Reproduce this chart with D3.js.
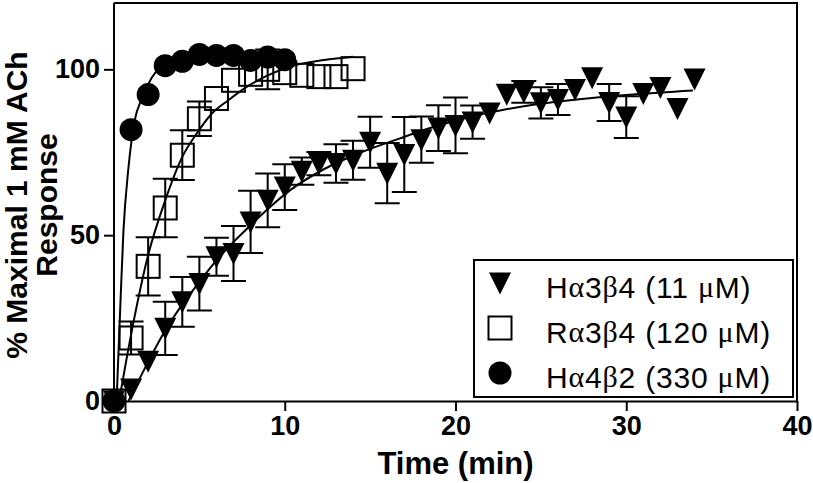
<!DOCTYPE html>
<html>
<head>
<meta charset="utf-8">
<script src="https://cdn.jsdelivr.net/npm/d3@7"></script>
<style>
  html, body { margin: 0; padding: 0; background: #fff; }
  svg { display: block; }
</style>
</head>
<body>
<svg id="chart" width="813" height="483"></svg>
<script>
// ---- Data ----
const xTicks = [0, 10, 20, 30, 40];
const yTicks = [0, 50, 100];

// Hα3β4 (11 µM) – filled down-triangles
const triTime = [0,1,2,3,4,5,6,7,8,9,10,11,12,13,14,15,16,17,18,19,20,21,22,23,24,25,26,27,28,29,30,31,32,33,34];
const triValue = [0,3.6,12,21.9,29.9,35.4,43.5,44.5,54,60.5,64.5,69.3,71.6,71.6,72.6,78,68.7,74.3,78.8,82.3,83.1,84.1,86.8,92.5,93.2,89.9,90.9,93.9,97.5,90,85.6,92.7,94.5,88.2,97.1];
const triError = [0,0,0,8,7.5,8.1,5.7,8.3,9.4,8.1,6.9,4.1,3.5,5.8,5.9,7.7,9.1,11.3,7,6.9,8.4,5,0,0,3.3,4.7,4.7,0,0,5.6,6.3,0,0,0,0];

// Rα3β4 (120 µM) – open squares
const sqTime = [0,1,2,3,4,5,6,7,8,9,10,11,12,13,14];
const sqValue = [0,19,40.6,58.2,74.1,85.1,91.2,96.7,98.5,100,99,98.2,97.8,97.8,100.2];
const sqError = [0,5,8.8,8.8,7.5,5.2,0,0,0,6,0,0,0,0,0];

// Hα4β2 (330 µM) – filled circles
const cirTime = [0,1,2,3,4,5,6,7,8,9,10];
const cirValue = [0,81.8,92.4,101.1,102.4,104.5,104.2,104.2,102.7,103.7,102.9];
const cirError = [0,0,0,0,0,0,0,0,0,0,0];

// Fitted curves, points
const triFitTime = [0.85,2,3.08,5.04,6.1,8,9.14,10.3,12.26,14.2,16.75,18.7,20.7,22.6,24.96,27.7,30.4,33.9];
const triFitValue = [0,11.8,22,36.2,43,53,58.5,63.5,69.8,74.4,79.2,82.6,85.5,87.6,89.6,91.2,92.4,93.6];
const sqFitTime = [0.3,1,2,3,4,4.84,5.72,6.7,7.77,8.94,10.3,12.3,14];
const sqFitValue = [0,20,44,60.5,73.6,80.6,86.6,90.7,94.7,98,100.8,102.8,103.8];
const cirFitTime = [0.15,0.35,0.55,0.84,1.04,1.23,1.62,2.0,2.5,3,4,5,7,10];
const cirFitValue = [0,26,51,70,79,85,91,95.5,99.5,101.8,103.5,104.2,104.5,104.6];

const legendLabels = [
  ["H", "α", "3", "β", "4 (11 ", "μ", "M)"],
  ["R", "α", "3", "β", "4 (120 ", "μ", "M)"],
  ["H", "α", "4", "β", "2 (330 ", "μ", "M)"]
];
const greek = new Set(["α", "β", "μ"]);

const xTitle = "Time (min)";
const yTitle = ["% Maximal 1 mM ACh", "Response"];

// ---- Drawing ----
const svg = d3.select("#chart");
const x = d3.scaleLinear().domain([0, 40]).range([114, 797]);
const y = d3.scaleLinear().domain([0, 120]).range([401, 3]);

const bold = "'Liberation Sans', Arial, Helvetica, sans-serif";

// frame (top & right)
svg.append("path")
  .attr("d", `M${x(0)},${y(120)}H${x(40)}V${y(0)}`)
  .attr("fill", "none").attr("stroke", "#000").attr("stroke-width", 2);

// axes
const xAxis = svg.append("g").attr("transform", `translate(0,${y(0)})`)
  .call(d3.axisBottom(x).tickValues(xTicks).tickSize(10).tickSizeOuter(0).tickPadding(5));
const yAxis = svg.append("g").attr("transform", `translate(${x(0)},0)`)
  .call(d3.axisLeft(y).tickValues(yTicks).tickSize(10).tickSizeOuter(0).tickPadding(4));
[xAxis, yAxis].forEach(g => {
  g.select(".domain").attr("stroke-width", 2);
  g.selectAll(".tick line").attr("stroke-width", 2);
  g.selectAll(".tick text").attr("font-family", bold).attr("font-weight", "bold")
    .attr("font-size", 27).attr("fill", "#000");
});
yAxis.select(".domain").attr("d", `M0,${y(0)}V${y(120)}`);

// axis titles
svg.append("text").attr("x", (x(0) + x(40)) / 2).attr("y", 474)
  .attr("text-anchor", "middle").attr("font-family", bold).attr("font-weight", "bold")
  .attr("font-size", 31).text(xTitle);
const yMid = (y(0) + y(120)) / 2 + 3;
svg.append("text").attr("transform", `translate(27,${yMid}) rotate(-90)`)
  .attr("text-anchor", "middle").attr("font-family", bold).attr("font-weight", "bold")
  .attr("font-size", 30).text(yTitle[0]);
svg.append("text").attr("transform", `translate(57,${yMid}) rotate(-90)`)
  .attr("text-anchor", "middle").attr("font-family", bold).attr("font-weight", "bold")
  .attr("font-size", 30).text(yTitle[1]);

// fit curves
const line = d3.line().x(d => x(d[0])).y(d => y(d[1])).curve(d3.curveMonotoneX);
[[triFitTime, triFitValue], [sqFitTime, sqFitValue], [cirFitTime, cirFitValue]].forEach(([t, v]) => {
  svg.append("path").datum(t.map((tt, i) => [tt, v[i]]))
    .attr("d", line).attr("fill", "none").attr("stroke", "#000").attr("stroke-width", 2);
});

// error bars
function errorBars(t, v, e) {
  const g = svg.append("g").attr("stroke", "#000").attr("stroke-width", 2).attr("fill", "none");
  t.forEach((tt, i) => {
    if (!e[i]) return;
    const cx = x(tt), y1 = y(v[i] + e[i]), y2 = y(v[i] - e[i]);
    g.append("path").attr("d", `M${cx},${y1}V${y2}M${cx - 12.5},${y1}H${cx + 12.5}M${cx - 12.5},${y2}H${cx + 12.5}`);
  });
}
errorBars(sqTime, sqValue, sqError);
errorBars(triTime, triValue, triError);
errorBars(cirTime, cirValue, cirError);

// marker shapes
const triPath = "M-11,-10.5L11,-10.5L0,11.5Z";
function squares(g, pts) {
  g.selectAll("rect").data(pts).join("rect")
    .attr("x", d => d[0] - 11.5).attr("y", d => d[1] - 11.5)
    .attr("width", 23).attr("height", 23)
    .attr("fill", "none").attr("stroke", "#000").attr("stroke-width", 2);
}
squares(svg.append("g"), sqTime.map((t, i) => [x(t), y(sqValue[i])]));
svg.append("g").selectAll("path").data(triTime).join("path")
  .attr("d", triPath).attr("fill", "#000")
  .attr("transform", (t, i) => `translate(${x(t)},${y(triValue[i])})`);
svg.append("g").selectAll("circle").data(cirTime).join("circle")
  .attr("cx", t => x(t)).attr("cy", (t, i) => y(cirValue[i])).attr("r", 11.5).attr("fill", "#000");

// legend
const lg = svg.append("g");
lg.append("rect").attr("x", 474).attr("y", 260).attr("width", 319).attr("height", 137)
  .attr("fill", "#fff").attr("stroke", "#000").attr("stroke-width", 2);
const rowY = [283, 328, 373];
lg.append("path").attr("d", triPath).attr("fill", "#000").attr("transform", `translate(500,${rowY[0]})`);
squares(lg.append("g"), [[500, rowY[1]]]);
lg.append("circle").attr("cx", 500).attr("cy", rowY[2]).attr("r", 11.5).attr("fill", "#000");
legendLabels.forEach((parts, i) => {
  const t = lg.append("text").attr("x", 546).attr("y", rowY[i] + 6.5)
    .attr("dominant-baseline", "middle")
    .attr("font-family", "'Liberation Sans', Arial, sans-serif").attr("font-size", 30)
    .attr("letter-spacing", 0.8).attr("fill", "#000");
  parts.forEach(p => {
    const s = t.append("tspan").text(p);
    if (greek.has(p)) s.attr("font-family", "'Liberation Serif', 'Times New Roman', serif");
  });
});
</script>
</body>
</html>
